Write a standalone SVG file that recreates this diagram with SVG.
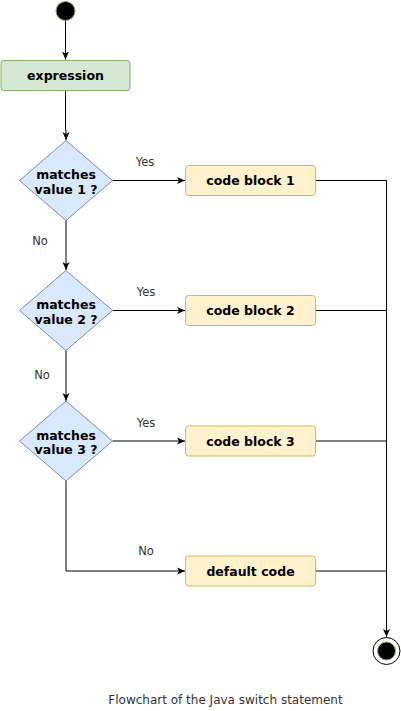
<svg xmlns="http://www.w3.org/2000/svg" width="401" height="711" viewBox="0 0 401 711">
<style>
.dec{fill:#dae8fc;stroke:#6c8ebf;stroke-width:1}
.blk{fill:#fff2cc;stroke:#d6b656;stroke-width:1}
.exp{fill:#d5e8d4;stroke:#82b366;stroke-width:1}
.nt{font-family:"DejaVu Sans",Verdana,sans-serif;font-weight:bold;font-size:12.5px;fill:#000;text-anchor:middle}
.lbl{font-family:"DejaVu Sans",Verdana,sans-serif;font-size:11.5px;fill:#333;text-anchor:middle}
.cap{font-family:"DejaVu Sans",Verdana,sans-serif;font-size:12px;fill:#333;text-anchor:middle}
.ln{fill:none;stroke:#000;stroke-width:1}
</style>
<defs>
<marker id="arr" markerUnits="userSpaceOnUse" markerWidth="10" markerHeight="8" refX="8" refY="4" orient="auto">
<path d="M0,0.5 L8,4 L0,7.5 L2,4 z" fill="#000"/>
</marker>
</defs>
<rect width="401" height="711" fill="#fff"/>
<g id="connectors">
<path class="ln" d="M65.5,20.5 L65.5,59.5" marker-end="url(#arr)"/>
<path class="ln" d="M65.5,90.5 L65.5,130 L66,130 L66,140" marker-end="url(#arr)"/>
<path class="ln" d="M112.5,180.5 L185,180.5" marker-end="url(#arr)"/>
<path class="ln" d="M66,220.5 L66,270" marker-end="url(#arr)"/>
<path class="ln" d="M112.5,310.5 L185,310.5" marker-end="url(#arr)"/>
<path class="ln" d="M66,350.5 L66,401" marker-end="url(#arr)"/>
<path class="ln" d="M112.5,441 L185,441" marker-end="url(#arr)"/>
<path class="ln" d="M66,481 L66,571 L185,571" marker-end="url(#arr)"/>
<path class="ln" d="M315.5,180.5 L386.5,180.5 L386.5,637" marker-end="url(#arr)"/>
<path class="ln" d="M315.5,310.5 L386.5,310.5"/>
<path class="ln" d="M315.5,441 L386.5,441"/>
<path class="ln" d="M315.5,571 L386.5,571"/>
<text class="lbl" x="145" y="166">Yes</text>
<text class="lbl" x="146" y="296">Yes</text>
<text class="lbl" x="146" y="427">Yes</text>
<text class="lbl" x="40" y="245">No</text>
<text class="lbl" x="42" y="379">No</text>
<text class="lbl" x="146" y="555">No</text>
</g>
<g id="start">
<circle cx="65.5" cy="11" r="9.5" fill="#000" stroke="#82b366" stroke-width="1"/>
</g>
<g id="expression">
<rect class="exp" x="1" y="60.5" width="129" height="30" rx="3"/>
<text class="nt" x="65.5" y="80">expression</text>
</g>
<g id="decision1">
<polygon class="dec" points="66,140.5 112.5,180.5 66,220.5 19.5,180.5"/>
<text class="nt" x="66" y="179">matches</text>
<text class="nt" x="66" y="193.5">value 1 ?</text>
</g>
<g id="decision2">
<polygon class="dec" points="66,270.5 112.5,310.5 66,350.5 19.5,310.5"/>
<text class="nt" x="66" y="309">matches</text>
<text class="nt" x="66" y="323.5">value 2 ?</text>
</g>
<g id="decision3">
<polygon class="dec" points="66,401 112.5,441 66,481 19.5,441"/>
<text class="nt" x="66" y="439.5">matches</text>
<text class="nt" x="66" y="454">value 3 ?</text>
</g>
<g id="block1">
<rect class="blk" x="185.5" y="165.5" width="130" height="30" rx="3"/>
<text class="nt" x="250.5" y="185">code block 1</text>
</g>
<g id="block2">
<rect class="blk" x="185.5" y="295.5" width="130" height="30" rx="3"/>
<text class="nt" x="250.5" y="315">code block 2</text>
</g>
<g id="block3">
<rect class="blk" x="185.5" y="426" width="130" height="30" rx="3"/>
<text class="nt" x="250.5" y="445.5">code block 3</text>
</g>
<g id="default">
<rect class="blk" x="185.5" y="556" width="130" height="30" rx="3"/>
<text class="nt" x="250.5" y="575.5">default code</text>
</g>
<g id="end">
<circle cx="386.5" cy="651" r="13.5" fill="#fff" stroke="#000" stroke-width="1"/>
<circle cx="386.5" cy="651" r="9" fill="#000" stroke="#82b366" stroke-width="1"/>
</g>
<text class="cap" x="225.5" y="704">Flowchart of the Java switch statement</text>
</svg>
